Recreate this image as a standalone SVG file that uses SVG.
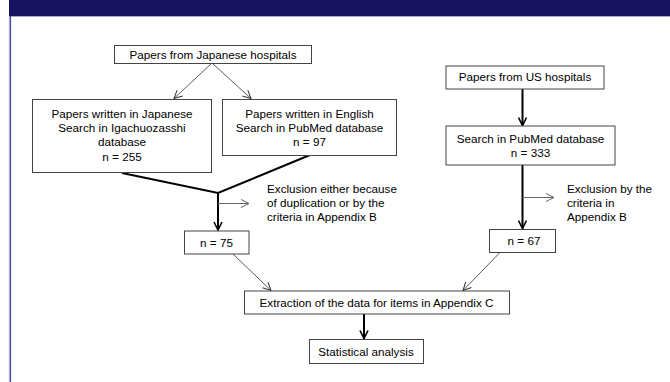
<svg xmlns="http://www.w3.org/2000/svg" width="670" height="382" viewBox="0 0 670 382">
<style>
.box{fill:#fff;stroke:#444;stroke-width:1}
.t{font-family:"Liberation Sans",Arial,sans-serif;font-size:11.7px;fill:#000}
.c{text-anchor:middle}
.thin{stroke:#333;stroke-width:0.8;fill:none}
.gray{stroke:#666;stroke-width:1;fill:none}
.thick{stroke:#000;stroke-width:2;fill:none}
</style>
<defs>
<marker id="open" viewBox="0 0 10 10" refX="9" refY="5" markerWidth="10" markerHeight="10" markerUnits="userSpaceOnUse" orient="auto">
<path d="M1,1 L9,5 L1,9" fill="none" stroke="#333" stroke-width="1"/>
</marker>
<marker id="openg" viewBox="0 0 10 10" refX="9" refY="5" markerWidth="10" markerHeight="10" markerUnits="userSpaceOnUse" orient="auto">
<path d="M1,1 L9,5 L1,9" fill="none" stroke="#666" stroke-width="1"/>
</marker>
<marker id="thickm" viewBox="0 0 10 10" refX="9" refY="5" markerWidth="10" markerHeight="10" markerUnits="userSpaceOnUse" orient="auto">
<path d="M1,1 L9,5 L1,9" fill="none" stroke="#000" stroke-width="1.6"/>
</marker>
</defs>
<rect x="0" y="0" width="670" height="382" fill="#fff"/>
<g id="header">
<rect x="9" y="0" width="661" height="16" fill="#171360"/>
<line x1="9" y1="16.5" x2="670" y2="16.5" stroke="#a9a7d0" stroke-width="1"/>
<line x1="10.3" y1="16" x2="10.3" y2="382" stroke="#4a46a2" stroke-width="1.6"/>
<line x1="9.2" y1="16" x2="9.2" y2="382" stroke="#b8b6dc" stroke-width="0.6"/>
</g>
<g id="connectors">
<line class="thin" x1="212" y1="63" x2="174" y2="98.5" marker-end="url(#open)"/>
<line class="thin" x1="212" y1="63" x2="251" y2="98.5" marker-end="url(#open)"/>
<polyline class="thick" points="122,173 218,193 310,155"/>
<line class="thick" x1="218" y1="192" x2="218" y2="230" marker-end="url(#thickm)"/>
<line class="gray" x1="218" y1="203.5" x2="249" y2="203.5" marker-end="url(#openg)"/>
<line class="thick" x1="522.5" y1="89" x2="522.5" y2="125.5" marker-end="url(#thickm)"/>
<line class="thick" x1="522.5" y1="165" x2="522.5" y2="228.5" marker-end="url(#thickm)"/>
<line class="gray" x1="522.5" y1="197.5" x2="554" y2="197.5" marker-end="url(#openg)"/>
<line class="thin" x1="233" y1="254" x2="271" y2="290.5" marker-end="url(#open)"/>
<line class="thin" x1="500" y1="252.5" x2="463" y2="290.5" marker-end="url(#open)"/>
<line class="thick" x1="364" y1="314" x2="364" y2="338.5" marker-end="url(#thickm)"/>
</g>
<g id="jp-hospitals">
<rect class="box" x="114.5" y="45.5" width="197" height="18"/>
<text class="t c" x="213" y="58.5">Papers from Japanese hospitals</text>
</g>
<g id="jp-japanese">
<rect class="box" x="32.5" y="99.5" width="179" height="73"/>
<text class="t c" x="122" y="117.5">Papers written in Japanese</text>
<text class="t c" x="122" y="132">Search in Igachuozasshi</text>
<text class="t c" x="122" y="146.3">database</text>
<text class="t c" x="122" y="160.6">n = 255</text>
</g>
<g id="jp-english">
<rect class="box" x="222.5" y="99.5" width="174" height="56"/>
<text class="t c" x="309.5" y="117.5">Papers written in English</text>
<text class="t c" x="309.5" y="132">Search in PubMed database</text>
<text class="t c" x="309.5" y="146.3">n = 97</text>
</g>
<g id="jp-exclusion">
<text class="t" x="267" y="193">Exclusion either because</text>
<text class="t" x="267" y="207">of duplication or by the</text>
<text class="t" x="267" y="221">criteria in Appendix B</text>
</g>
<g id="jp-n75">
<rect class="box" x="184.5" y="231" width="64.5" height="23"/>
<text class="t c" x="216.5" y="246.5">n = 75</text>
</g>
<g id="us-hospitals">
<rect class="box" x="446" y="66" width="158" height="23"/>
<text class="t c" x="525" y="81">Papers from US hospitals</text>
</g>
<g id="us-pubmed">
<rect class="box" x="446" y="126" width="169" height="39"/>
<text class="t c" x="530.5" y="142.5">Search in PubMed database</text>
<text class="t c" x="530.5" y="157">n = 333</text>
</g>
<g id="us-exclusion">
<text class="t" x="567" y="193">Exclusion by the</text>
<text class="t" x="567" y="207">criteria in</text>
<text class="t" x="567" y="221">Appendix B</text>
</g>
<g id="us-n67">
<rect class="box" x="489.5" y="229.5" width="66" height="23"/>
<text class="t c" x="524" y="245">n = 67</text>
</g>
<g id="extraction">
<rect class="box" x="244.5" y="291" width="265" height="23"/>
<text class="t c" x="376.5" y="306.5">Extraction of the data for items in Appendix C</text>
</g>
<g id="statistics">
<rect class="box" x="309.5" y="339.5" width="114" height="24"/>
<text class="t c" x="366" y="355.5">Statistical analysis</text>
</g>
</svg>
